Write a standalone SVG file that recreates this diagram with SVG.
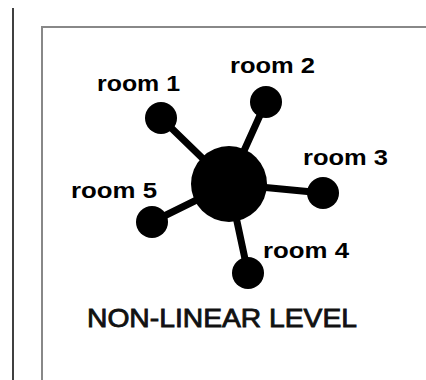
<svg xmlns="http://www.w3.org/2000/svg" width="426" height="380" viewBox="0 0 426 380">
<style>
.lbl{font-family:"Liberation Sans",Arial,sans-serif;font-weight:bold;font-size:22px;fill:#000}
.title{font-family:"Liberation Sans",Arial,sans-serif;font-size:25px;fill:#111;stroke:#111;stroke-width:0.8}
.node{fill:#000}
.link{stroke:#000;stroke-width:7;stroke-linecap:round}
</style>
<rect width="426" height="380" fill="#fff"/>
<line x1="13" y1="8" x2="13" y2="380" stroke="#000" stroke-width="1.5"/>
<path d="M42 380 V27 H426" fill="none" stroke="#888" stroke-width="2"/>
<g id="connectors">
<line class="link" x1="229" y1="184" x2="161" y2="118"/>
<line class="link" x1="229" y1="184" x2="266" y2="102"/>
<line class="link" x1="229" y1="184" x2="323" y2="193"/>
<line class="link" x1="229" y1="184" x2="248" y2="273"/>
<line class="link" x1="229" y1="184" x2="152" y2="222"/>
</g>
<g id="hub"><circle class="node" cx="229" cy="184" r="38"/></g>
<g id="room1"><circle class="node" cx="161" cy="118" r="16"/><text class="lbl" x="97" y="91" textLength="83" lengthAdjust="spacingAndGlyphs">room 1</text></g>
<g id="room2"><circle class="node" cx="266" cy="102" r="16"/><text class="lbl" x="230" y="73" textLength="85" lengthAdjust="spacingAndGlyphs">room 2</text></g>
<g id="room3"><circle class="node" cx="323" cy="193" r="16"/><text class="lbl" x="303" y="165" textLength="85" lengthAdjust="spacingAndGlyphs">room 3</text></g>
<g id="room4"><circle class="node" cx="248" cy="273" r="16"/><text class="lbl" x="263" y="258" textLength="86" lengthAdjust="spacingAndGlyphs">room 4</text></g>
<g id="room5"><circle class="node" cx="152" cy="222" r="16"/><text class="lbl" x="71" y="198" textLength="86" lengthAdjust="spacingAndGlyphs">room 5</text></g>
<text class="title" x="87" y="327" textLength="270" lengthAdjust="spacingAndGlyphs">NON-LINEAR LEVEL</text>
</svg>
